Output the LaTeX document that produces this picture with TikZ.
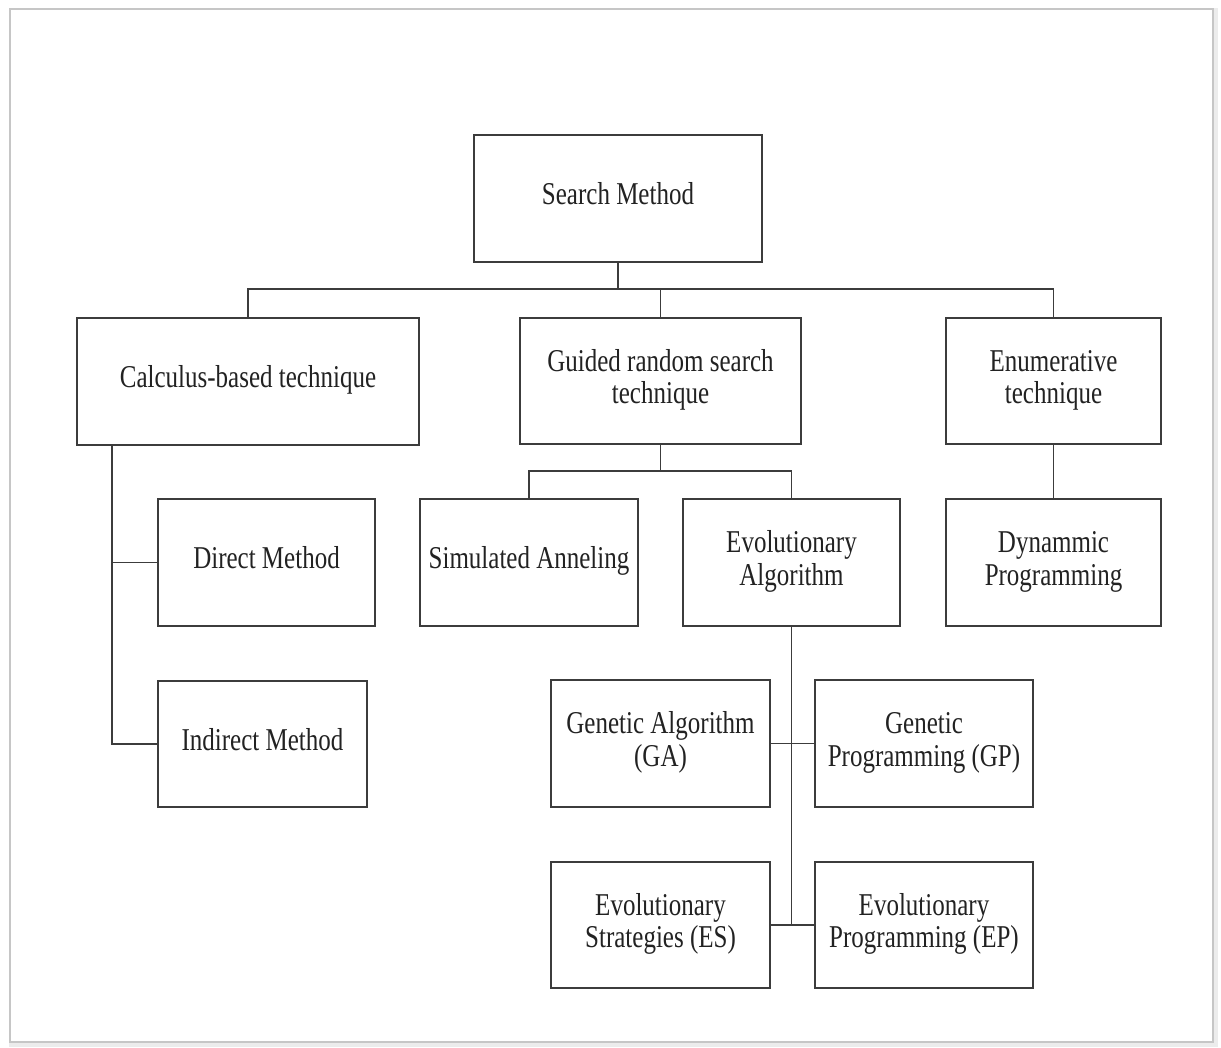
\documentclass[tikz,border=0pt]{standalone}
\usepackage{fontspec}
\usepackage{graphicx}
\setmainfont{Liberation Serif}
\definecolor{ln}{HTML}{3C3C3C}
\definecolor{tx}{HTML}{222222}
\newcommand{\bt}[1]{\scalebox{1}[1.27]{\begin{tabular}{@{}c@{}}#1\end{tabular}}}
\tikzset{
  box/.style={draw=ln, line width=1.8pt, rectangle, inner sep=0pt, align=center,
    text=tx, font=\fontsize{25}{25.5}\selectfont},
  conn/.style={draw=ln, line width=1.8pt}
}
\begin{document}
\begin{tikzpicture}[x=1pt,y=-1pt]
\useasboundingbox (0,0) rectangle (1221,1048);
% outer frame with soft shadow
\draw[gray!15, line width=6pt] (12,11) rectangle (1215,1044);
\draw[gray!45, line width=2pt] (10,9) rectangle (1213,1042);
\fill[white] (11,10) rectangle (1212,1041);
% nodes
\node[box, minimum width=288pt, minimum height=127pt] (sm) at (618,198.5) {\bt{Search Method}};
\node[box, minimum width=342pt, minimum height=127pt] (calc) at (248,381.5) {\bt{Calculus-based technique}};
\node[box, minimum width=281pt, minimum height=126pt] (gui) at (660.5,381) {\bt{Guided random search\\technique}};
\node[box, minimum width=215pt, minimum height=126pt] (enu) at (1053.5,381) {\bt{Enumerative\\technique}};
\node[box, minimum width=217pt, minimum height=127pt] (dir) at (266.5,562.5) {\bt{Direct Method}};
\node[box, minimum width=209pt, minimum height=126pt] (ind) at (262.5,744) {\bt{Indirect Method}};
\node[box, minimum width=218pt, minimum height=127pt] (sa) at (529,562.5) {\bt{Simulated Anneling}};
\node[box, minimum width=217pt, minimum height=127pt] (ea) at (791.5,562.5) {\bt{Evolutionary\\Algorithm}};
\node[box, minimum width=215pt, minimum height=127pt] (dp) at (1053.5,562.5) {\bt{Dynammic\\Programming}};
\node[box, minimum width=219pt, minimum height=127pt] (ga) at (660.5,743.5) {\bt{Genetic Algorithm\\(GA)}};
\node[box, minimum width=218pt, minimum height=127pt] (gp) at (924,743.5) {\bt{Genetic\\Programming (GP)}};
\node[box, minimum width=219pt, minimum height=126pt] (es) at (660.5,925) {\bt{Evolutionary\\Strategies (ES)}};
\node[box, minimum width=218pt, minimum height=126pt] (ep) at (924,925) {\bt{Evolutionary\\Programming (EP)}};
% helper coordinates
\coordinate (b1) at (618,289);
\coordinate (b2) at (660.5,471);
\coordinate (cv) at (112,0);
% connectors
\draw[conn] (sm.south) -- (b1);
\draw[conn] (calc.north) -- (calc.north |- b1) -- (enu.north |- b1) -- (enu.north);
\draw[conn] (gui.north) -- (gui.north |- b1);
\draw[conn] (gui.south) -- (b2);
\draw[conn] (sa.north) -- (sa.north |- b2) -- (ea.north |- b2) -- (ea.north);
\draw[conn] (enu.south) -- (dp.north);
\draw[conn] (calc.south -| cv) -- (ind.west -| cv) -- (ind.west);
\draw[conn] (dir.west) -- (dir.west -| cv);
\draw[conn] (ea.south) -- (ea.south |- es.east);
\draw[conn] (ga.east) -- (gp.west);
\draw[conn] (es.east) -- (ep.west);
\end{tikzpicture}
\end{document}
